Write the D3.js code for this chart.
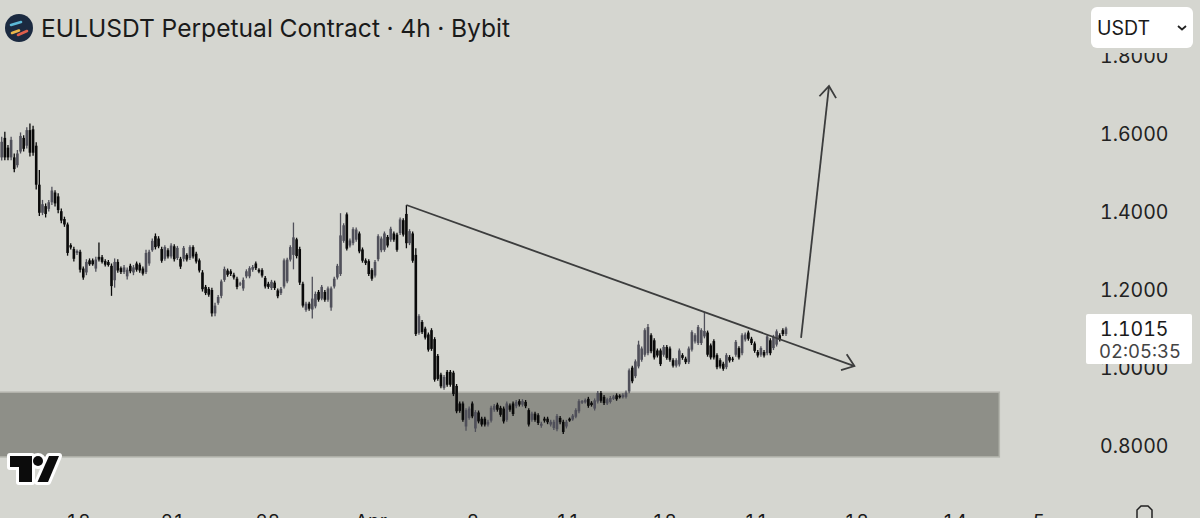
<!DOCTYPE html>
<html lang="en">
<head>
  <meta charset="UTF-8">
  <title>EULUSDT Perpetual Contract</title>
  <script src="https://d3js.org/d3.v7.min.js"></script>
  <style>
    html, body { margin: 0; padding: 0; background: #d5d6d0; overflow: hidden; }
    svg { display: block; }
    text { font-family: Inter, "Noto Sans", sans-serif; fill: #1a1a1a; font-variant-numeric: tabular-nums; }
    .tick text { font-size: 19.5px; fill: #222; }
  </style>
</head>
<body>
<svg width="1200" height="518"></svg>
<script>
  const highs = [
    1.593,1.606,1.572,1.593,1.550,1.559,1.604,1.597,1.617,1.627,
    1.621,1.579,1.508,1.431,1.422,1.431,1.465,1.456,1.448,1.409,
    1.388,1.373,1.320,1.311,1.304,1.303,1.260,1.279,1.281,1.281,
    1.285,1.322,1.290,1.279,1.277,1.268,1.281,1.279,1.260,1.264,
    1.258,1.267,1.264,1.273,1.270,1.260,1.303,1.303,1.332,1.345,
    1.338,1.311,1.315,1.307,1.320,1.317,1.313,1.285,1.313,1.294,
    1.315,1.315,1.298,1.281,1.251,1.213,1.208,1.206,1.167,1.187,
    1.227,1.260,1.255,1.253,1.244,1.234,1.221,1.232,1.253,1.261,
    1.264,1.273,1.256,1.256,1.236,1.221,1.226,1.224,1.204,1.208,
    1.281,1.283,1.315,1.373,1.334,1.311,1.221,1.170,1.170,1.234,
    1.196,1.200,1.213,1.200,1.209,1.209,1.234,1.267,1.397,1.371,
    1.399,1.332,1.361,1.360,1.350,1.309,1.281,1.279,1.256,1.277,
    1.343,1.337,1.350,1.341,1.362,1.350,1.347,1.386,1.384,1.418,
    1.356,1.350,1.307,1.138,1.123,1.106,1.091,1.102,1.079,1.036,
    0.988,0.982,0.995,0.995,0.993,0.959,0.914,0.914,0.897,0.901,
    0.914,0.892,0.891,0.875,0.875,0.867,0.903,0.908,0.911,0.903,
    0.901,0.914,0.909,0.914,0.918,0.920,0.920,0.918,0.897,0.888,
    0.888,0.884,0.862,0.875,0.875,0.867,0.867,0.882,0.877,0.867,
    0.867,0.873,0.882,0.897,0.920,0.918,0.922,0.926,0.915,0.922,
    0.941,0.941,0.931,0.924,0.928,0.931,0.935,0.933,0.935,0.942,
    0.999,1.006,1.022,1.070,1.055,1.102,1.113,1.089,1.076,1.050,
    1.050,1.059,1.059,1.055,1.025,1.025,1.050,1.038,1.029,1.055,
    1.097,1.089,1.110,1.102,1.144,1.096,1.063,1.074,1.038,1.025,
    1.016,1.038,1.033,1.029,1.072,1.056,1.089,1.091,1.096,1.080,
    1.068,1.046,1.056,1.046,1.086,1.076,1.085,1.099,1.089,1.102,
    1.106
  ];
  const lows = [
    1.532,1.533,1.533,1.533,1.502,1.514,1.550,1.555,1.563,1.542,
    1.544,1.458,1.390,1.392,1.386,1.401,1.418,1.414,1.397,1.371,
    1.362,1.288,1.304,1.273,1.290,1.245,1.226,1.238,1.262,1.262,
    1.247,1.273,1.268,1.260,1.260,1.185,1.206,1.244,1.241,1.241,
    1.227,1.243,1.238,1.247,1.244,1.237,1.241,1.262,1.298,1.304,
    1.307,1.270,1.275,1.281,1.281,1.273,1.277,1.254,1.273,1.273,
    1.277,1.281,1.268,1.245,1.196,1.187,1.183,1.132,1.133,1.162,
    1.179,1.221,1.234,1.236,1.227,1.202,1.210,1.198,1.230,1.230,
    1.247,1.251,1.243,1.232,1.204,1.203,1.200,1.200,1.179,1.187,
    1.204,1.217,1.273,1.253,1.281,1.213,1.155,1.144,1.147,1.127,
    1.153,1.170,1.174,1.170,1.170,1.147,1.204,1.227,1.236,1.321,
    1.301,1.309,1.315,1.324,1.294,1.270,1.264,1.236,1.224,1.232,
    1.274,1.297,1.298,1.309,1.324,1.324,1.298,1.341,1.337,1.307,
    1.315,1.270,1.082,1.085,1.087,1.073,1.042,1.044,0.965,0.967,
    0.948,0.944,0.952,0.952,0.928,0.884,0.885,0.862,0.839,0.867,
    0.871,0.836,0.858,0.850,0.850,0.850,0.860,0.888,0.888,0.875,
    0.858,0.862,0.888,0.877,0.897,0.901,0.901,0.897,0.850,0.862,
    0.862,0.854,0.847,0.860,0.856,0.850,0.841,0.838,0.856,0.831,
    0.845,0.862,0.865,0.871,0.884,0.908,0.909,0.898,0.901,0.891,
    0.909,0.911,0.905,0.905,0.909,0.918,0.916,0.922,0.922,0.922,
    0.935,0.961,0.974,0.999,1.016,1.029,1.033,1.038,1.022,1.027,
    1.005,1.029,1.021,1.016,1.001,1.001,1.004,1.021,1.010,1.010,
    1.042,1.063,1.059,1.059,1.076,1.029,1.022,1.022,0.997,0.999,
    0.993,0.997,1.014,1.016,1.029,1.022,1.033,1.068,1.070,1.059,
    1.039,1.027,1.029,1.027,1.033,1.033,1.046,1.055,1.068,1.082,
    1.082
  ];
  const opens = [
    1.540,1.590,1.565,1.540,1.540,1.520,1.555,1.590,1.570,1.610,
    1.612,1.570,1.470,1.398,1.415,1.408,1.425,1.450,1.440,1.402,
    1.382,1.368,1.315,1.305,1.295,1.298,1.255,1.245,1.276,1.276,
    1.255,1.285,1.284,1.274,1.272,1.262,1.225,1.272,1.256,1.246,
    1.235,1.262,1.245,1.268,1.265,1.255,1.246,1.268,1.302,1.338,
    1.332,1.305,1.280,1.302,1.286,1.312,1.282,1.280,1.280,1.290,
    1.282,1.310,1.293,1.276,1.245,1.208,1.203,1.200,1.140,1.167,
    1.185,1.226,1.250,1.248,1.239,1.229,1.214,1.204,1.235,1.235,
    1.252,1.268,1.252,1.251,1.231,1.216,1.205,1.219,1.199,1.192,
    1.209,1.222,1.278,1.290,1.330,1.305,1.216,1.149,1.165,1.150,
    1.158,1.195,1.178,1.195,1.175,1.155,1.209,1.232,1.241,1.326,
    1.394,1.314,1.320,1.329,1.345,1.304,1.276,1.274,1.251,1.237,
    1.279,1.302,1.303,1.336,1.329,1.345,1.342,1.346,1.379,1.395,
    1.320,1.345,1.290,1.090,1.118,1.101,1.086,1.097,1.074,1.031,
    0.983,0.949,0.990,0.990,0.988,0.954,0.909,0.909,0.850,0.872,
    0.909,0.845,0.886,0.870,0.870,0.855,0.865,0.893,0.906,0.898,
    0.896,0.867,0.904,0.909,0.902,0.915,0.906,0.913,0.892,0.867,
    0.883,0.879,0.852,0.870,0.870,0.855,0.846,0.843,0.872,0.862,
    0.850,0.870,0.868,0.875,0.889,0.911,0.912,0.921,0.911,0.896,
    0.914,0.936,0.926,0.909,0.913,0.921,0.930,0.929,0.925,0.926,
    0.940,1.001,0.979,1.004,1.021,1.034,1.038,1.084,1.071,1.045,
    1.045,1.034,1.054,1.050,1.020,1.006,1.009,1.033,1.024,1.015,
    1.047,1.068,1.064,1.064,1.081,1.091,1.058,1.069,1.033,1.020,
    1.011,1.002,1.028,1.024,1.034,1.051,1.038,1.073,1.091,1.075,
    1.063,1.041,1.034,1.041,1.038,1.071,1.051,1.060,1.084,1.097,
    1.087
  ];
  const closes = [
    1.580,1.540,1.540,1.585,1.510,1.550,1.595,1.562,1.610,1.552,
    1.552,1.470,1.398,1.420,1.395,1.425,1.455,1.422,1.405,1.378,
    1.368,1.295,1.309,1.280,1.300,1.252,1.232,1.272,1.266,1.266,
    1.278,1.278,1.272,1.265,1.264,1.210,1.272,1.250,1.246,1.258,
    1.252,1.248,1.258,1.252,1.250,1.242,1.295,1.298,1.326,1.310,
    1.312,1.275,1.310,1.286,1.314,1.279,1.308,1.260,1.308,1.278,
    1.310,1.286,1.273,1.250,1.202,1.192,1.188,1.140,1.160,1.182,
    1.222,1.254,1.239,1.241,1.232,1.208,1.217,1.226,1.248,1.256,
    1.259,1.256,1.247,1.237,1.209,1.208,1.221,1.205,1.184,1.203,
    1.276,1.278,1.310,1.335,1.287,1.219,1.160,1.165,1.152,1.178,
    1.190,1.175,1.208,1.175,1.204,1.204,1.229,1.262,1.340,1.366,
    1.306,1.327,1.356,1.355,1.299,1.275,1.269,1.241,1.229,1.272,
    1.338,1.332,1.345,1.314,1.357,1.329,1.303,1.381,1.342,1.320,
    1.351,1.275,1.087,1.133,1.092,1.078,1.047,1.049,0.970,0.972,
    0.953,0.977,0.957,0.957,0.933,0.889,0.890,0.867,0.892,0.896,
    0.876,0.887,0.863,0.855,0.855,0.862,0.898,0.903,0.893,0.880,
    0.863,0.909,0.893,0.882,0.913,0.906,0.915,0.902,0.855,0.883,
    0.867,0.859,0.857,0.865,0.861,0.862,0.862,0.877,0.861,0.836,
    0.862,0.865,0.878,0.892,0.915,0.915,0.918,0.903,0.905,0.917,
    0.936,0.916,0.910,0.920,0.923,0.927,0.920,0.925,0.931,0.937,
    0.994,0.966,1.017,1.060,1.050,1.097,1.105,1.043,1.027,1.032,
    1.010,1.054,1.026,1.021,1.006,1.020,1.045,1.026,1.015,1.050,
    1.092,1.084,1.105,1.097,1.095,1.034,1.027,1.027,1.002,1.004,
    0.998,1.033,1.019,1.021,1.067,1.027,1.084,1.086,1.075,1.064,
    1.044,1.032,1.051,1.032,1.081,1.038,1.080,1.094,1.073,1.087,
    1.1015
  ];

  const priceTicks = [0.8, 1.0, 1.2, 1.4, 1.6, 1.8];
  const lastPrice = 1.1015;
  const countdown = "02:05:35";
  const timeLabels = ["18", "21", "28", "Apr", "8", "11", "18", "11", "18", "14", "5"];
  const timeLabelBars = [24.4, 54.6, 84.8, 117.7, 150.2, 180.6, 211.3, 240.6, 272.5, 303.8, 330.6];

  // drawings on the chart, in bar index and price
  const supplyZone = { barEnd: 318, top: 0.938, bottom: 0.772 };
  const trendLine = [[129, 1.418], [271.8, 1.005]];
  const breakoutArrow = [[254.8, 1.077], [263.7, 1.723]];

  const svg = d3.select("svg"),
        width = +svg.attr("width"),
        height = +svg.attr("height");

  const x = d3.scaleLinear().domain([0, 250]).range([1.7, 786]);
  const y = d3.scaleLinear().domain([0.8, 1.8]).range([446, 56]);

  svg.append("rect").attr("width", width).attr("height", height).attr("fill", "#d5d6d0");

  // zone
  svg.append("rect")
      .attr("x", -3)
      .attr("y", y(supplyZone.top))
      .attr("width", x(supplyZone.barEnd) + 3)
      .attr("height", y(supplyZone.bottom) - y(supplyZone.top))
      .attr("fill", "#8e8f88")
      .attr("stroke", "#b4b5ad")
      .attr("stroke-width", 1.5);

  // candles
  const candles = highs.map((h, i) => ({ i, h, l: lows[i], o: opens[i], c: closes[i] }));
  const colour = d => d.c >= d.o ? "#50505a" : "#0a0a0a";

  svg.append("g").selectAll("line")
    .data(candles)
    .enter().append("line")
      .attr("x1", d => x(d.i))
      .attr("x2", d => x(d.i))
      .attr("y1", d => y(d.h))
      .attr("y2", d => y(d.l))
      .attr("stroke", colour)
      .attr("stroke-width", 1.3);

  svg.append("g").selectAll("rect")
    .data(candles)
    .enter().append("rect")
      .attr("x", d => x(d.i) - 1.3)
      .attr("width", 2.6)
      .attr("y", d => y(Math.max(d.o, d.c)))
      .attr("height", d => Math.abs(y(d.o) - y(d.c)))
      .attr("fill", colour);

  // trend line and arrow, with open arrow heads
  function arrow(points) {
    const [x1, y1] = [x(points[0][0]), y(points[0][1])];
    const [x2, y2] = [x(points[1][0]), y(points[1][1])];
    const a = Math.atan2(y2 - y1, x2 - x1);
    const head = [a + 2.5, a - 2.5].map(t => [x2 + 14 * Math.cos(t), y2 + 14 * Math.sin(t)]);
    const line = d3.line();
    const g = svg.append("g")
        .attr("fill", "none")
        .attr("stroke", "#3c3d3d")
        .attr("stroke-width", 1.8);
    g.append("path").attr("d", line([[x1, y1], [x2, y2]]));
    g.append("path").attr("d", line([head[0], [x2, y2], head[1]]));
  }
  arrow(trendLine);
  arrow(breakoutArrow);

  // price axis
  const yAxis = svg.append("g")
      .attr("transform", "translate(1097,0)")
      .call(d3.axisRight(y).tickValues(priceTicks).tickFormat(d3.format(".4f")).tickSize(0));
  yAxis.select(".domain").remove();

  // time axis, almost fully cut off at the bottom
  svg.append("g").selectAll("text")
    .data(timeLabels)
    .enter().append("text")
      .attr("x", (d, i) => x(timeLabelBars[i]))
      .attr("y", 528)
      .attr("text-anchor", "middle")
      .attr("font-size", 19)
      .text(d => d);

  // header
  svg.append("circle").attr("cx", 19).attr("cy", 28).attr("r", 14).attr("fill", "#1b2a40");
  const logoBars = [[11, 25, 21, 22, "#5cb9d6"], [12, 33, 19, 30.5, "#e9b84b"], [18, 35, 27, 31, "#de5f4c"]];
  svg.append("g").selectAll("line")
    .data(logoBars)
    .enter().append("line")
      .attr("x1", d => d[0]).attr("y1", d => d[1])
      .attr("x2", d => d[2]).attr("y2", d => d[3])
      .attr("stroke", d => d[4])
      .attr("stroke-width", 2.6)
      .attr("stroke-linecap", "round");

  svg.append("text")
      .attr("x", 41)
      .attr("y", 37)
      .attr("font-size", 24.6)
      .text("EULUSDT Perpetual Contract · 4h · Bybit");

  // currency selector, it hides the top of the 1.8000 label
  svg.append("rect")
      .attr("x", 1090).attr("y", 48).attr("width", 100).attr("height", 5)
      .attr("fill", "#d5d6d0");
  svg.append("rect")
      .attr("x", 1091).attr("y", 7).attr("width", 102).attr("height", 41).attr("rx", 6)
      .attr("fill", "#ffffff");
  svg.append("text").attr("x", 1097).attr("y", 34.5).attr("font-size", 19.5).text("USDT");
  svg.append("path")
      .attr("d", "M1178 26l4 3.5l4 -3.5")
      .attr("fill", "none")
      .attr("stroke", "#222")
      .attr("stroke-width", 1.8);

  // last price label
  svg.append("rect")
      .attr("x", 1086).attr("y", 314).attr("width", 106).attr("height", 50).attr("rx", 2)
      .attr("fill", "#ffffff");
  svg.append("text").attr("x", 1100).attr("y", 336).attr("font-size", 19.5)
      .text(d3.format(".4f")(lastPrice));
  svg.append("text").attr("x", 1099).attr("y", 358).attr("font-size", 18.5)
      .style("fill", "#444").text(countdown);

  // TradingView mark
  const tvT = "M10 456H32V482H19V467H10Z";
  const tvSlash = "M49 456H59L48 482H37.5Z";
  [["#ffffff", 6], ["#0c0c0c", 0]].forEach(([c, w]) => {
    const g = svg.append("g").attr("fill", c).attr("stroke", c).attr("stroke-width", w).attr("stroke-linejoin", "round");
    g.append("path").attr("d", tvT);
    g.append("path").attr("d", tvSlash);
    g.append("circle").attr("cx", 38).attr("cy", 461).attr("r", 5);
  });

  // settings icon at the bottom edge
  svg.append("path")
      .attr("d", "M1137 520V510l4 -4h7l4 4v10")
      .attr("fill", "none")
      .attr("stroke", "#222")
      .attr("stroke-width", 1.5);
</script>
</body>
</html>
